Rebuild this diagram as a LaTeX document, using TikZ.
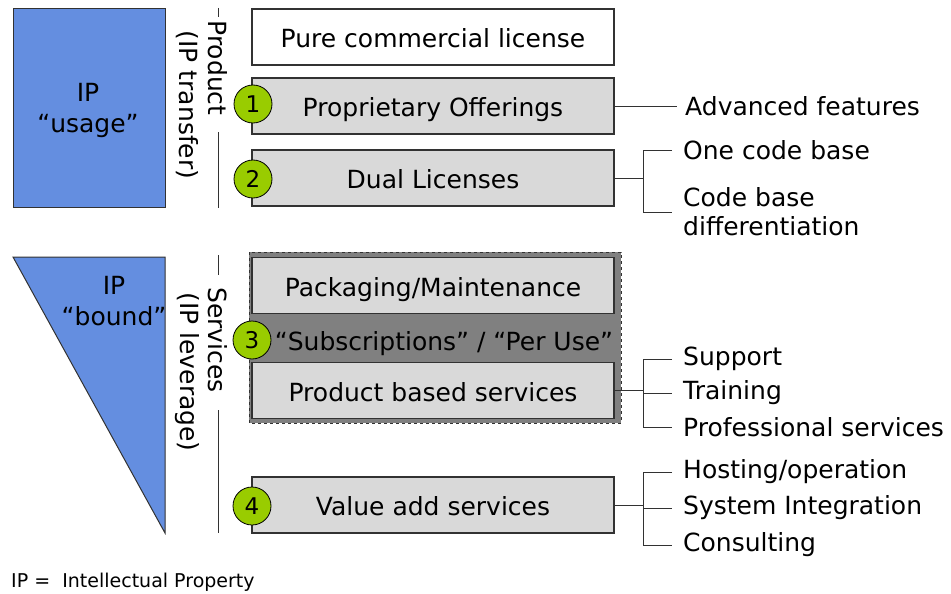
\documentclass[tikz,border=0pt]{standalone}
\usepackage{fontspec}
\setmainfont{DejaVu Sans}
\definecolor{ipblue}{RGB}{100,142,224}
\definecolor{boxgray}{RGB}{217,217,217}
\definecolor{bandgray}{RGB}{128,128,128}
\definecolor{numgreen}{RGB}{153,204,0}
\definecolor{edge}{RGB}{50,50,50}
\begin{document}
\begin{tikzpicture}[x=1pt,y=-1pt,
  txt/.style={font=\fontsize{25}{29}\selectfont},
  boxtxt/.style={txt, text height=21pt, text depth=0pt},
  box/.style={boxtxt, draw=edge, line width=1.3pt, minimum width=362pt, minimum height=56pt, inner sep=0pt},
  graybox/.style={box, fill=boxgray},
  num/.style={circle, draw=black, line width=0.8pt, fill=numgreen, minimum size=38pt, inner sep=0pt, font=\fontsize{23}{23}\selectfont},
  lbl/.style={txt, anchor=west, inner xsep=11pt, inner ysep=0pt},
  conn/.style={draw=edge, line width=1pt},
  side/.style={draw=edge, line width=1pt},
  rot/.style={txt, rotate=-90, inner sep=0pt}
]
\useasboundingbox (0,0) rectangle (951,594);

% IP shapes
\draw[fill=ipblue, draw=edge, line width=1pt] (13,9) rectangle (165,207);
\node[txt, align=center] (usage) at (88,110) {IP\\[2pt]“usage”};
\draw[fill=ipblue, draw=edge, line width=1pt] (13,257) -- (165,257) -- (165,533) -- cycle;
\node[txt, align=center] (bound) at (114,301) {IP\\[2pt]“bound”};

% rotated side labels
\node[rot] (transfer) at (187,105) {(IP transfer)};
\node[rot] (product) at (218,68) {Product};
\draw[side] (218,8) -- (218,17);
\draw[side] (218,132) -- (218,208);
\node[rot] (leverage) at (187,372) {(IP leverage)};
\node[rot] (services) at (218,340) {Services};
\draw[side] (218,255) -- (218,275);
\draw[side] (218,410) -- (218,533);

% services group
\draw[fill=bandgray, draw=edge, line width=1pt, dashed] (249,252) rectangle (621,423);

% boxes
\node[box, fill=white] (pure) at (433,37) {Pure commercial license};
\node[graybox] (prop) at (433,106) {Proprietary Offerings};
\node[graybox] (dual) at (433,178) {Dual Licenses};
\node[graybox] (pack) at (433,285.5) {Packaging/Maintenance};
\node[boxtxt] (subs) at (444,340) {“Subscriptions” / “Per Use”};
\node[graybox] (pbs) at (433,390.5) {Product based services};
\node[graybox] (vas) at (433,505) {Value add services};

% numbers
\node[num] (n1) at (253,104) {1};
\node[num] (n2) at (253,179) {2};
\node[num] (n3) at (252,340) {3};
\node[num] (n4) at (252,506) {4};

% right labels
\node[lbl, inner xsep=8pt] (adv) at (677,106) {Advanced features};
\node[lbl] (one) at (672,150) {One code base};
\node[lbl, align=left, font=\fontsize{25}{29}\selectfont] (diff) at (672,212) {Code base\\differentiation};
\node[lbl] (sup) at (672,359) {Support};
\node[lbl] (trn) at (672,393) {Training};
\node[lbl] (prof) at (672,427) {Professional services};
\node[lbl] (host) at (672,472) {Hosting/operation};
\node[lbl] (sys) at (672,508) {System Integration};
\node[lbl] (cons) at (672,545) {Consulting};

% connectors
\draw[conn] (prop.east) -- (adv.west);
\draw[conn] (dual.east) -- ++(29,0) coordinate (j2);
\draw[conn] (one.west) -| (j2) |- (diff.west);
\draw[conn] (pbs.east) -- ++(29,0) coordinate (j3);
\draw[conn] (sup.west) -| (j3) |- (prof.west);
\draw[conn] (j3 |- trn.west) -- (trn.west);
\draw[conn] (vas.east) -- ++(29,0) coordinate (j4);
\draw[conn] (host.west) -| (j4) |- (cons.west);
\draw[conn] (j4 |- sys.west) -- (sys.west);

% footer
\node[anchor=west, inner sep=0pt, font=\fontsize{19}{21}\selectfont] (foot) at (11,582) {IP =\ \ Intellectual Property};
\end{tikzpicture}
\end{document}
